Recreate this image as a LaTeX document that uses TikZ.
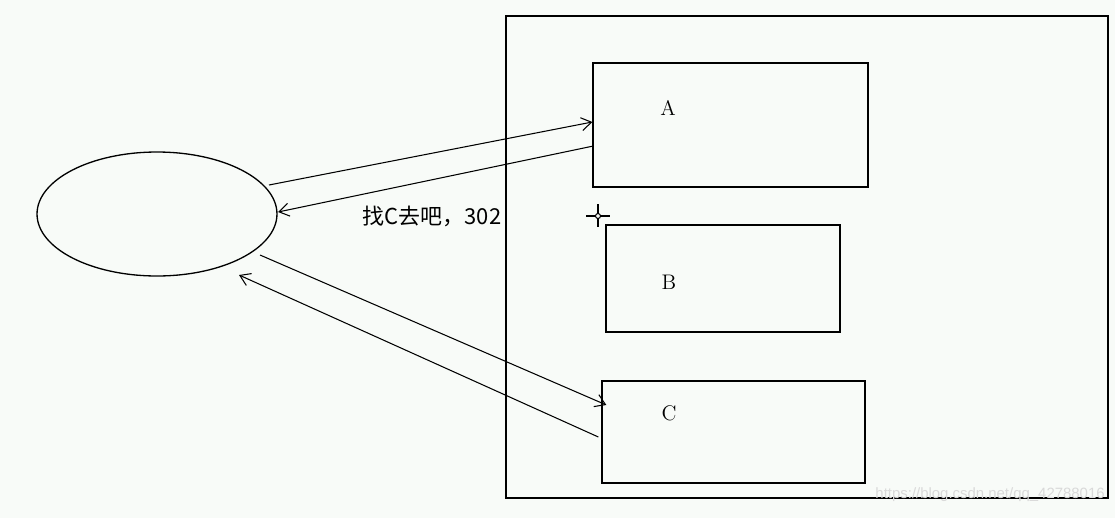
\documentclass[tikz,border=0pt]{standalone}
\usepackage{fontspec}
\newfontfamily\cjk{Noto Sans CJK SC}
\newfontfamily\marksans{Liberation Sans}
\usetikzlibrary{arrows.meta, shapes.geometric, calc}
\definecolor{paper}{RGB}{248,251,248}

\begin{document}
\begin{tikzpicture}[
    x=0.02cm, y=-0.02cm,
    line/.style={line width=0.75pt},
    box/.style={draw, line width=0.75pt, rectangle, inner sep=0pt},
    client/.style={draw, line width=0.75pt, ellipse, inner sep=0pt,
                   minimum width=4.8cm, minimum height=2.48cm},
    lbl/.style={font=\fontsize{12}{14}\selectfont},
    msg/.style={font=\cjk\fontsize{12.5}{15}\selectfont},
    req/.style={line width=0.6pt, -{Straight Barb[length=2mm, width=2.6mm]}},
  ]

  % --- canvas -----------------------------------------------------------------
  \fill[paper] (0,0) rectangle (1115,518);
  \useasboundingbox (0,0) rectangle (1115,518);

  % --- client and server group -------------------------------------------------
  \node[client] (client) at (157,214) {};
  \node[box, minimum width=12.04cm, minimum height=9.64cm] (cluster) at (807,257) {};

  % --- the three servers ------------------------------------------------------
  \node[box, minimum width=5.5cm,  minimum height=2.48cm] (srvA) at (730.5,125) {};
  \node[box, minimum width=4.68cm, minimum height=2.14cm] (srvB) at (723,278.5) {};
  \node[box, minimum width=5.26cm, minimum height=2.04cm] (srvC) at (733.5,432) {};
  \node[lbl] (labA) at (668,108) {A};
  \node[lbl] (labB) at (669,282) {B};
  \node[lbl] (labC) at (669,413) {C};

  % --- requests and the redirect ------------------------------------------------
  \draw[req] ($(client)+(112,-29)$) -- ($(srvA.west)+(0,-3)$);
  \draw[req] ($(srvA.west)+(1,21)$) -- ($(client)+(121,-2)$);
  \node[msg] (redirect) at (432,216) {找C去吧，302};
  \draw[req] ($(client)+(103,41)$) -- ($(srvC.west)+(5,-27)$);
  \draw[req] ($(srvC.west)+(-3,5)$) -- ($(client)+(82,61)$);

  % --- cursor ------------------------------------------------------------------
  \coordinate (cursor) at (598,216);
  \draw[line width=1pt] ($(cursor)+(-12,0)$) -- ($(cursor)+(12,0)$);
  \draw[line width=1pt] ($(cursor)+(0,-12)$) -- ($(cursor)+(0,11)$);
  \filldraw[fill=paper, line width=0.6pt] (cursor) circle (2.5);

  % --- watermark ---------------------------------------------------------------
  \node[gray!30, anchor=east, inner sep=0pt, font=\marksans\fontsize{8.5}{10}\selectfont]
    (mark) at (1105,495) {https://blog.csdn.net/qq\_42788016};

\end{tikzpicture}
\end{document}
